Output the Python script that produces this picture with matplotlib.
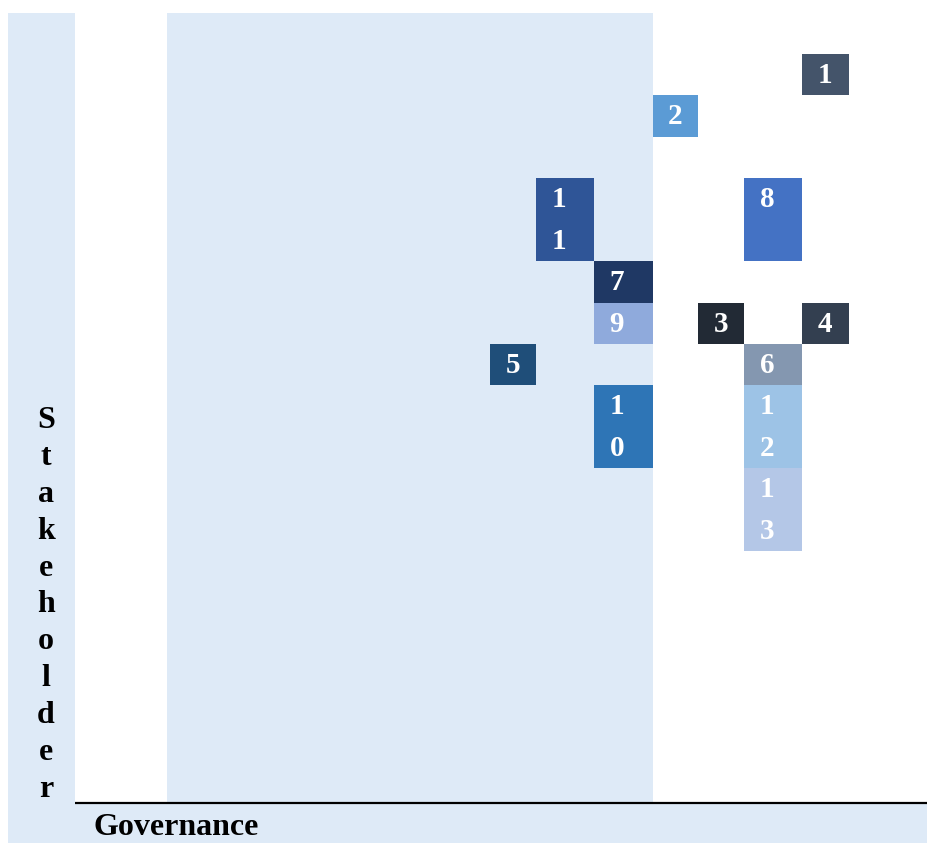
import matplotlib
matplotlib.use("Agg")
import matplotlib.pyplot as plt
from matplotlib.patches import Rectangle

# ---- data ----
labels = ["1", "2", "11", "8", "7", "9", "3", "4", "5", "6", "10", "12", "13"]
box_col = [9, 6, 4, 8, 5, 5, 7, 9, 3, 8, 5, 8, 8]
box_row = [1, 2, 4, 4, 6, 7, 7, 7, 8, 8, 9, 9, 11]
box_span = [1, 1, 2, 2, 1, 1, 1, 1, 1, 1, 2, 2, 2]
box_colors = ["#44546A", "#5B9BD5", "#2F5597", "#4472C4", "#1F3864", "#8FAADC",
              "#222A35", "#333F50", "#1F4E79", "#8497B0", "#2E75B6", "#9DC3E6", "#B4C7E7"]
y_title = "Stakeholder"
x_title = "Governance"

# ---- layout ----
W, H = 928, 843
col_edges = [8, 75, 167, 490, 536, 594, 653, 698, 744, 802, 849, 928]
row_top0 = 12.6
row_h = 41.42
grid_bottom = 803
light = "#DEEAF7"
serif = ["Liberation Serif", "DejaVu Serif"]

fig = plt.figure(figsize=(W / 100, H / 100), dpi=100)
ax = fig.add_axes([0, 0, 1, 1])
ax.set_xlim(0, W)
ax.set_ylim(H, 0)
ax.axis("off")

# background bands
ax.add_patch(Rectangle((col_edges[0], row_top0), col_edges[1] - col_edges[0],
                       grid_bottom - row_top0, color=light, lw=0))
ax.add_patch(Rectangle((col_edges[2], row_top0), col_edges[6] - col_edges[2],
                       grid_bottom - row_top0, color=light, lw=0))
ax.add_patch(Rectangle((col_edges[0], grid_bottom), W - col_edges[0],
                       H - grid_bottom, color=light, lw=0))
ax.plot([col_edges[1], W], [grid_bottom, grid_bottom], color="black", lw=1.6,
        solid_capstyle="butt")

# boxes
for lab, c, r, s, colr in zip(labels, box_col, box_row, box_span, box_colors):
    x0 = col_edges[c]
    x1 = col_edges[c + 1]
    y0 = row_top0 + r * row_h
    ax.add_patch(Rectangle((x0, y0), x1 - x0, s * row_h, color=colr, lw=0))
    cx = x0 + min((x1 - x0) / 2, 23)
    for i, ch in enumerate(lab):
        ax.text(cx, y0 + i * row_h + 29, ch, color="white", fontsize=21,
                fontweight="bold", family=serif, ha="center", va="baseline")

# vertical y title (stacked letters)
for i, ch in enumerate(y_title):
    ax.text(46, 428 + i * 36.9, ch, fontsize=23, fontweight="bold", family=serif,
            ha="center", va="baseline", color="black")

# x title
ax.text(94, 835, x_title, fontsize=23, fontweight="bold", family=serif,
        ha="left", va="baseline", color="black")

fig.savefig("out.png", dpi=100)
